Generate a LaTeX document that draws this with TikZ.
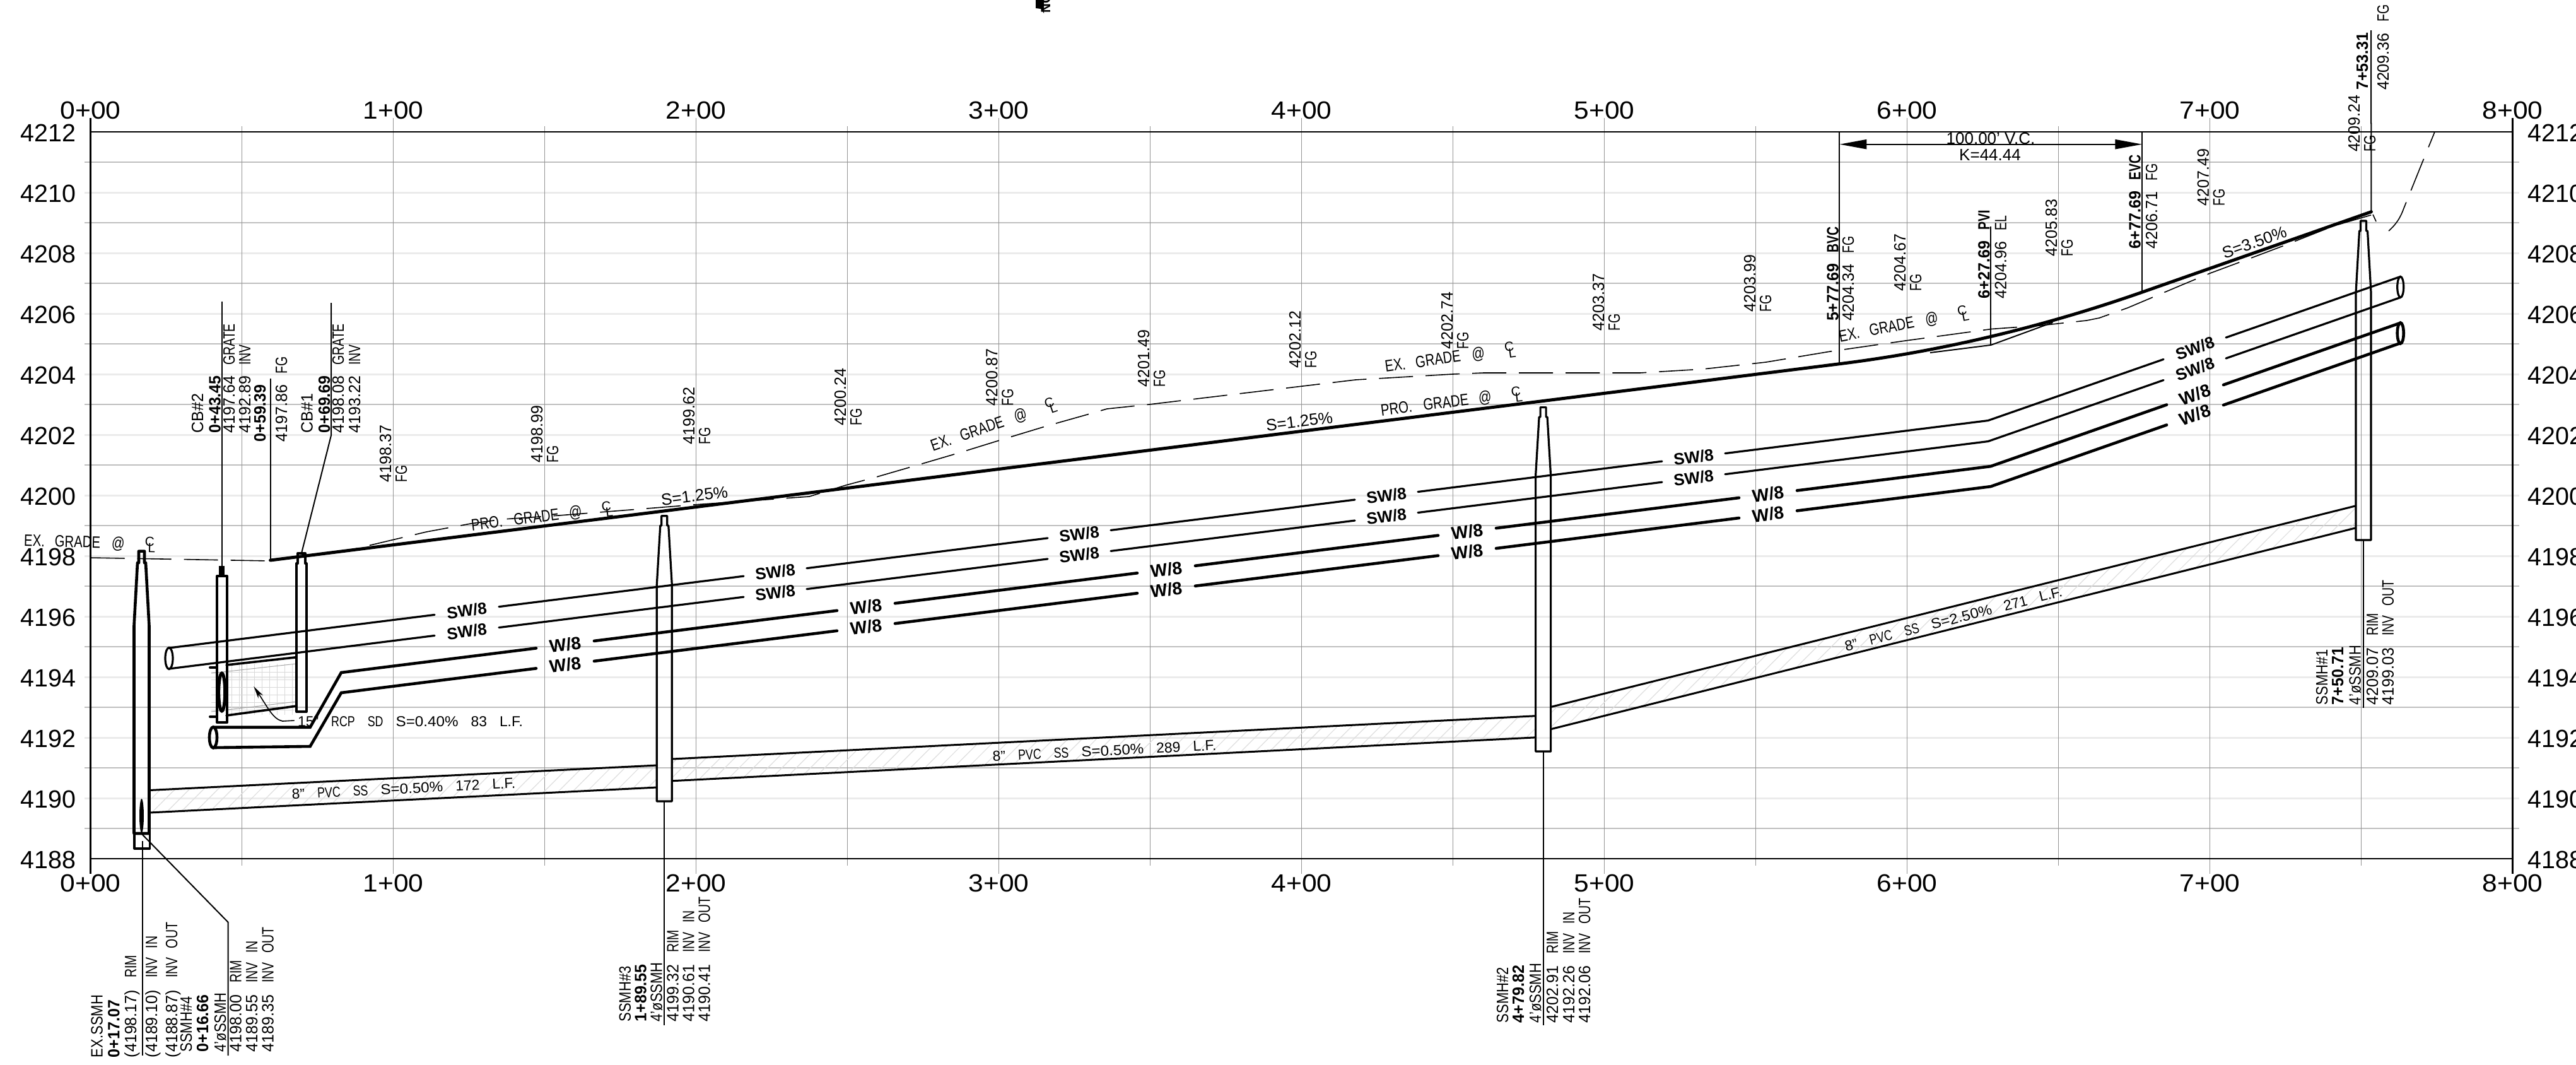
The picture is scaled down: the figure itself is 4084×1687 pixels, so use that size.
\documentclass[tikz,border=0pt]{standalone}
\usepackage{fontspec}
\setmainfont{Liberation Sans}
\usetikzlibrary{arrows.meta,patterns.meta}
\newcommand{\vfont}{\fontsize{7.4}{8}\selectfont}
\newcommand{\sfont}{\fontsize{6.5}{8}\selectfont}
\newcommand{\nar}[1]{\scalebox{.78}[1]{#1}}
\newcommand{\nam}[1]{\scalebox{.88}[1]{#1}}
\newcommand{\wid}[1]{\scalebox{1.06}[1]{#1}}
\newcommand{\cl}{\makebox[.7em][l]{\raisebox{.2em}{\scalebox{.8}{C}}\hspace{-.38em}\raisebox{-.2em}{\scalebox{.8}{L}}}}
\tikzset{
	gridmajor/.style = {draw = black!42, line width = .016cm},
	gridodd/.style = {draw = black!25, line width = .024cm},
	grideven/.style = {draw = black!8, line width = .03cm},
	frameline/.style = {draw = black, line width = .026cm},
	axlab/.style = {inner sep = 0pt, font = \fontsize{11.2}{12}\selectfont},
	prograde/.style = {draw = black, line width = .05cm, line cap = round},
	exgrade/.style = {draw = black, line width = .016cm, dash pattern = on .54cm off .2cm},
	swline/.style = {draw = black, line width = .032cm, line cap = round},
	wline/.style = {draw = black, line width = .046cm, line cap = round},
	ssline/.style = {draw = black, line width = .03cm},
	mhwall/.style = {draw = black, line width = .032cm, line join = round},
	ldr/.style = {draw = black, line width = .02cm},
	vlab/.style = {rotate = 90, xscale = .96, anchor = base west, inner sep = 0pt, font = \vfont},
	slab/.style = {inner sep = 0pt, font = \vfont},
	pipelab/.style = {inner sep = 0pt, font = \sfont},
	swlab/.style = {inner sep = 0pt, font = \vfont\bfseries},
	wlab/.style = {inner sep = 0pt, font = \fontsize{8}{9}\selectfont\bfseries}
}
\begin{document}
\begin{tikzpicture}[x = .01cm, y = -.01cm]
	\useasboundingbox (0, 0) rectangle (4084, 1687);
	\clip (0, 0) rectangle (4084, 1687);
	% grid
	\foreach \e in {4189, 4191, ..., 4211}{
		\draw[gridodd] (134, {209 + 48 * (4212 - \e)}) -- (3994, {209 + 48 * (4212 - \e)});}
	\foreach \e in {4190, 4192, ..., 4210}{
		\draw[grideven] (134, {209 + 48 * (4212 - \e)}) -- (3994, {209 + 48 * (4212 - \e)});}
	\foreach \i in {1, ..., 7}{
		\draw[gridmajor] ({143.5 + 480 * \i}, 187) -- ({143.5 + 480 * \i}, 1385);}
	\foreach \i in {0, ..., 7}{
		\draw[gridmajor] ({383.5 + 480 * \i}, 200) -- ({383.5 + 480 * \i}, 1372);}
	\draw[frameline] (143.5, 209) -- (3983.5, 209);
	\draw[frameline] (143.5, 1361) -- (3983.5, 1361);
	\draw[frameline] (143.5, 187) -- (143.5, 1385);
	\draw[frameline] (3983.5, 187) -- (3983.5, 1385);
	% axis labels
	\foreach \i in {0, ..., 8}{
		\node[axlab, xscale = 1.08] (top\i) at ({143.5 + 480 * \i}, 175) {\i+00};
		\node[axlab, xscale = 1.08] (bot\i) at ({143.5 + 480 * \i}, 1400) {\i+00};}
	\foreach \e in {4188, 4190, ..., 4212}{
		\node[axlab, anchor = east] (lft\e) at (121, {211 + 48 * (4212 - \e)}) {\e};
		\node[axlab, anchor = west] (rgt\e) at (4007, {211 + 48 * (4212 - \e)}) {\e};}
	% grades
	\draw[exgrade] (143.5, 884) -- (428, 889) -- (558, 871) -- (676, 843) -- (746, 830) -- (797, 823) -- (886, 817) -- (1000, 808) -- (1100, 800) -- (1200, 793) -- (1283, 787) -- (1341, 769) -- (1386, 757) -- (1455, 737) -- (1523, 717) -- (1594, 695) -- (1660, 675) -- (1731, 655) -- (1755, 648) -- (1822, 641) -- (2149, 602) -- (2303, 593) -- (2352, 591) -- (2600, 591) -- (2700, 585) -- (2800, 574) -- (2902, 557) -- (3021, 540) -- (3157, 521.5) -- (3234, 516) -- (3308, 508) -- (3328, 504) -- (3373, 488) -- (3463, 450) -- (3504, 433) -- (3574, 407) -- (3619, 390) -- (3700, 358) -- (3762, 340);
	\draw[draw = black, line width = .016cm] (3762, 340) -- (3767, 351);
	\draw[exgrade] (3787, 366) .. controls (3803, 352) and (3808, 338) .. (3811, 330) -- (3838, 263) -- (3860, 209);
	\coordinate (BVC) at (2916.4, 576.7);
	\coordinate (PVI) at (3156.4, 546.9);
	\coordinate (EVC) at (3396.4, 463);
	\coordinate (HP) at (3759.4, 335.7);
	\draw[ldr] (3060, 559) -- (PVI) -- (3254.5, 511);
	\draw[prograde] (428.6, 888) -- (BVC) .. controls (3076.4, 556.8) and (3236.4, 518.9) .. (EVC) -- (HP);
	\draw[{Triangle[length = .43cm, width = .15cm]}-{Triangle[length = .43cm, width = .15cm]}, line width = .024cm] (2916.4, 228.7) -- (3396.4, 228.7);
	% sewer pipes
	\foreach \xa/\ta/\ba/\xb/\tb/\bb in {237/1252.5/1288/1041/1213/1248, 1066/1203/1237.7/2435/1134.7/1168.8, 2458.3/1120.6/1155.8/3735/801.7/836.7}{
		\fill[pattern = {Lines[angle = 45, distance = .16cm, line width = .012cm]}, pattern color = black!13] (\xa, \ta) -- (\xb, \tb) -- (\xb, \bb) -- (\xa, \ba) -- cycle;
		\draw[ssline] (\xa, \ta) -- (\xb, \tb);
		\draw[ssline] (\xa, \ba) -- (\xb, \bb);}
	% service lines
	\foreach \ya in {1027, 1060}{
		\foreach \xa/\xb in {268/689, 791/1179, 1279/1661, 1761/2148, 2248/2635}{
			\draw[swline] (\xa, {\ya - .125 * (\xa - 268)}) -- (\xb, {\ya - .125 * (\xb - 268)});}
		\draw[swline] (2735, {\ya - .125 * (2735 - 268)}) -- (3152, {\ya - 360.5}) -- (3430, {\ya - 457.5});
		\draw[swline] (3529, {\ya - 492}) -- (3805.7, {\ya - 588.6});
		\foreach \cx in {740, 1229, 1711, 2198, 2685}{
			\node[swlab, rotate = 7.1] (sw\ya\cx) at (\cx, {\ya - .125 * (\cx - 268)}) {SW/8};}
		\node[swlab, rotate = 19.3] (sw\ya end) at (3480, {\ya - 475}) {SW/8};}
	\foreach \ya in {1066, 1098}{
		\foreach \xa/\xb in {541/850, 942/1327, 1419/1803, 1895/2280, 2372/2757}{
			\draw[wline] (\xa, {\ya - .125 * (\xa - 541)}) -- (\xb, {\ya - .125 * (\xb - 541)});}
		\draw[wline] (2849, {\ya - .125 * (2849 - 541)}) -- (3156, {\ya - 326.9}) -- (3435, {\ya - 424.5});
		\draw[wline] (3525, {\ya - 456}) -- (3805.7, {\ya - 554.2});
		\foreach \cx in {896, 1373, 1849, 2326, 2803}{
			\node[wlab, rotate = 7.1] (w\ya\cx) at (\cx, {\ya - .125 * (\cx - 541)}) {W/8};}
		\node[wlab, rotate = 19.3] (w\ya end) at (3480, {\ya - 440.4}) {W/8};}
	\draw[wline] (338, 1152.7) -- (491.7, 1152.7) -- (541, 1066);
	\draw[wline] (338, 1185) -- (491.7, 1183) -- (541, 1098);
	\draw[swline] (268, 1043.5) ellipse [x radius = 6, y radius = 17];
	\draw[wline] (338, 1168.8) ellipse [x radius = 6, y radius = 16.5];
	\draw[swline] (3805.7, 454.9) ellipse [x radius = 5, y radius = 16.5];
	\draw[wline] (3805.7, 528) ellipse [x radius = 5, y radius = 16.5];
	% storm pipe
	\begin{scope}[black!15, line width = .01cm]
		\foreach \x in {367, 379, ..., 463}{
			\draw (\x, 1052) -- (\x, 1133);}
		\foreach \y in {1065, 1077, ..., 1125}{
			\draw (335, \y) -- (470, \y);}
		\draw[black!35] (335, 1067) -- (470, 1052);
		\draw[black!35] (335, 1128) -- (470, 1112);
	\end{scope}
	\draw[swline, line width = .036cm] (359, 1054) -- (470, 1041.7);
	\draw[swline, line width = .036cm] (359, 1134) -- (470, 1119);
	\draw[swline, line width = .04cm] (333, 1058) -- (343, 1058);
	\draw[swline, line width = .04cm] (333, 1136) -- (343, 1136);
	\draw[draw = black, line width = .05cm] (351.7, 1097) ellipse [x radius = 5, y radius = 30];
	\draw[-{Stealth[length = .2cm, width = .09cm]}, line width = .016cm] (466.7, 1142) -- (448, 1143) .. controls (433, 1140) and (425, 1122) .. (402.3, 1088);
	% manholes
	\foreach \cx/\ry/\sy/\ky/\by/\lw in {224.5/873.6/892/992/1321/.046, 1053.3/817.7/833/926.7/1270/.032, 2446.6/645.6/661/754/1191/.032, 3747/350/366/464/856/.032}{
		\draw[mhwall, line width = \lw cm] (\cx - 12, \by) -- (\cx - 12, \ky) -- (\cx - 6.5, \sy) -- (\cx - 4.5, \sy) -- (\cx - 4.5, \ry) -- (\cx + 4.5, \ry) -- (\cx + 4.5, \sy) -- (\cx + 6.5, \sy) -- (\cx + 12, \ky) -- (\cx + 12, \by) -- cycle;}
	\draw[mhwall] (213, 1321) rectangle (237.6, 1345);
	\fill (224.5, 1293) ellipse [x radius = 3.5, y radius = 27];
	\draw[mhwall, line width = .04cm] (344, 1145) rectangle (360, 913);
	\fill (347, 913) rectangle (356, 897);
	\draw[mhwall, line width = .04cm] (470, 1128) -- (470, 893) -- (472, 893) -- (472, 877) -- (484, 877) -- (484, 893) -- (485.7, 893) -- (485.7, 1128) -- cycle;
	% leaders
	\draw[ldr] (226, 1333) -- (226, 1673);
	\draw[ldr] (224, 1321) -- (361.6, 1461.7) -- (361.6, 1673);
	\draw[ldr] (1053.3, 1270) -- (1053.3, 1625);
	\draw[ldr] (2446.6, 1191) -- (2446.6, 1625);
	\draw[ldr] (3747, 856) -- (3747, 1122);
	\draw[ldr] (352, 477.5) -- (352, 898);
	\draw[ldr] (428.6, 600) -- (428.6, 889);
	\draw[ldr] (525, 480) -- (525, 690) -- (478, 877);
	\draw[ldr] (2916.4, 209) -- (BVC);
	\draw[ldr] (3156.4, 359) -- (PVI);
	\draw[ldr] (3396.4, 209) -- (EVC);
	\draw[ldr] (3759, 48) -- (HP);
	% vertical labels
	\foreach \x/\y/\t [count = \n] in {
		322/687/{CB\#2}, 349.5/687/{\textbf{0+43.45}}, 372/687/{4197.64\hspace{.18cm}\nar{GRATE}}, 397/687/{4192.89\hspace{.18cm}\nar{INV}},
		421/701/{\textbf{0+59.39}}, 455/701/{4197.86\hspace{.18cm}\nar{FG}},
		495.5/687/{CB\#1}, 523/687/{\textbf{0+69.69}}, 545/687/{4198.08\hspace{.18cm}\nar{GRATE}}, 571/687/{4193.22\hspace{.18cm}\nar{INV}},
		162.6/1676.7/{\nam{EX.SSMH}}, 189.4/1676.7/{\textbf{0+17.07}}, 216/1676.7/{(4198.17)\hspace{.2cm}\nar{RIM}}, 249/1676.7/{(4189.10)\hspace{.2cm}\nar{INV}\hspace{.15cm}\nar{IN}}, 281/1676.7/{(4188.87)\hspace{.2cm}\nar{INV}\hspace{.15cm}\nar{OUT}},
		304/1668/{\nam{SSMH\#4}}, 330/1668/{\textbf{0+16.66}}, 358/1668/{\nam{4'øSSMH}}, 382.7/1668/{4198.00\hspace{.2cm}\nar{RIM}}, 408/1668/{4189.55\hspace{.2cm}\nar{INV}\hspace{.15cm}\nar{IN}}, 433.6/1668/{4189.35\hspace{.2cm}\nar{INV}\hspace{.15cm}\nar{OUT}},
		999.8/1620/{\nam{SSMH\#3}}, 1024.7/1620/{\textbf{1+89.55}}, 1049.7/1620/{\nam{4'øSSMH}}, 1075.7/1620/{4199.32\hspace{.2cm}\nar{RIM}}, 1100.6/1620/{4190.61\hspace{.2cm}\nar{INV}\hspace{.15cm}\nar{IN}}, 1125.6/1620/{4190.41\hspace{.2cm}\nar{INV}\hspace{.15cm}\nar{OUT}},
		2391/1621.7/{\nam{SSMH\#2}}, 2416/1621.7/{\textbf{4+79.82}}, 2443/1621.7/{\nam{4'øSSMH}}, 2470/1621.7/{4202.91\hspace{.2cm}\nar{RIM}}, 2496/1621.7/{4192.26\hspace{.2cm}\nar{INV}\hspace{.15cm}\nar{IN}}, 2521/1621.7/{4192.06\hspace{.2cm}\nar{INV}\hspace{.15cm}\nar{OUT}},
		3690/1117.7/{\nam{SSMH\#1}}, 3715/1117.7/{\textbf{7+50.71}}, 3742.5/1117.7/{\nam{4'øSSMH}}, 3770/1117.7/{4209.07\hspace{.2cm}\nar{RIM}}, 3794.8/1117.7/{4199.03\hspace{.2cm}\nar{INV}\hspace{.15cm}\nar{OUT}},
		2914.6/509.6/{\textbf{5+77.69}\hspace{.18cm}\textbf{\nar{BVC}}}, 2939/509.6/{4204.34\hspace{.18cm}\nar{FG}},
		3154.3/473.7/{\textbf{6+27.69}\hspace{.18cm}\textbf{\nar{PVI}}}, 3180.8/473.7/{4204.96\hspace{.18cm}\nar{EL}},
		3393.7/394.7/{\textbf{6+77.69}\hspace{.18cm}\textbf{\nar{EVC}}}, 3420/394.7/{4206.71\hspace{.18cm}\nar{FG}},
		3754/143.5/{\textbf{7+53.31}}, 3787/143.5/{4209.36\hspace{.19cm}\nar{FG}}}{
		\node[vlab] (lab\n) at (\x, \y) {\t};}
	\foreach \x/\y/\v [count = \n] in {620/765/4198.37, 860/734/4198.99, 1101/705/4199.62, 1341/675/4200.24, 1581.4/644/4200.87, 1822/614/4201.49, 2062/584/4202.12, 2303/554/4202.74, 2543/525/4203.37, 2783/495/4203.99, 3021/461.7/4204.67, 3261/406.7/4205.83, 3501.9/326.8/4207.49, 3741/241.6/4209.24}{
		\node[vlab] (fgv\n) at (\x, \y) {\v};
		\node[vlab] (fgt\n) at (\x + 25, \y) {\nar{FG}};}
	% slanted labels
	\node[slab, rotate = -1.5] (ex1) at (143, 861) {\nar{EX.}\hspace{.16cm}\nar{GRADE}\hspace{.18cm}\nar{@}\hspace{.32cm}\cl};
	\node[slab, rotate = 19] (ex2) at (1576, 674) {\nar{EX.}\hspace{.16cm}\nar{GRADE}\hspace{.18cm}\nar{@}\hspace{.32cm}\cl};
	\node[slab, rotate = 8] (ex3) at (2300, 568) {\nar{EX.}\hspace{.16cm}\nar{GRADE}\hspace{.18cm}\nar{@}\hspace{.32cm}\cl};
	\node[slab, rotate = 11] (ex4) at (3019, 515) {\nar{EX.}\hspace{.16cm}\nar{GRADE}\hspace{.18cm}\nar{@}\hspace{.32cm}\cl};
	\node[slab, rotate = 7.1] (pro1) at (860, 820) {\nar{PRO.}\hspace{.18cm}\nar{GRADE}\hspace{.16cm}\nar{@}\hspace{.32cm}\cl};
	\node[slab, rotate = 7.1] (pro2) at (2302, 638) {\nar{PRO.}\hspace{.18cm}\nar{GRADE}\hspace{.16cm}\nar{@}\hspace{.32cm}\cl};
	\node[slab, rotate = 7.1] (sl1) at (1101, 786) {S=1.25\%};
	\node[slab, rotate = 7.1] (sl2) at (2060, 668) {S=1.25\%};
	\node[slab, rotate = 19.3] (sl3) at (3574, 384) {S=3.50\%};
	\node[slab] (vc) at (3156, 220) {100.00' V.C.};
	\node[slab] (kval) at (3155, 246) {K=44.44};
	\node[pipelab] (rcp) at (650.5, 1144) {15"\hspace{.2cm}\nar{RCP}\hspace{.2cm}\nar{SD}\hspace{.2cm}\wid{S=0.40\%}\hspace{.2cm}83\hspace{.2cm}L.F.};
	\node[pipelab, rotate = 2.86] (ss1) at (640, 1250) {8"\hspace{.2cm}\nar{PVC}\hspace{.2cm}\nar{SS}\hspace{.2cm}\wid{S=0.50\%}\hspace{.2cm}172\hspace{.2cm}L.F.};
	\node[pipelab, rotate = 2.86] (ss2) at (1751, 1190) {8"\hspace{.2cm}\nar{PVC}\hspace{.2cm}\nar{SS}\hspace{.2cm}\wid{S=0.50\%}\hspace{.2cm}289\hspace{.2cm}L.F.};
	\node[pipelab, rotate = 14.3] (ss3) at (3097, 981) {8"\hspace{.2cm}\nar{PVC}\hspace{.2cm}\nar{SS}\hspace{.2cm}\wid{S=2.50\%}\hspace{.2cm}271\hspace{.2cm}L.F.};
	% sheet fragment at the top edge
	\fill (1642, 0) -- (1655, 0) -- (1655, 21) -- (1650, 14) -- (1642, 13) -- cycle;
	\node[vlab, font = \fontsize{6}{7}\selectfont\bfseries] (frag) at (1665, 21) {NO};
\end{tikzpicture}
\end{document}
